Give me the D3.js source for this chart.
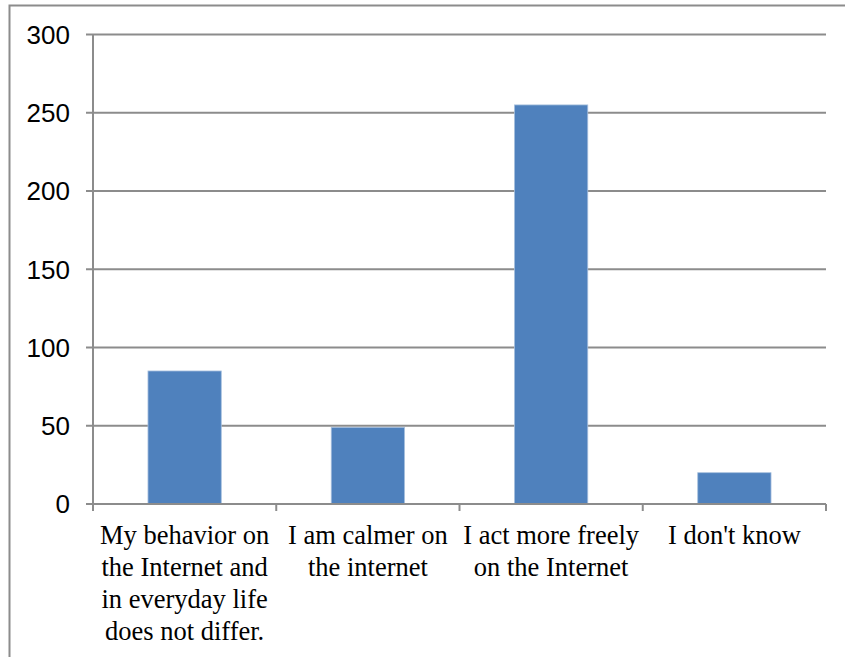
<!DOCTYPE html>
<html>
<head>
<meta charset="utf-8">
<script src="https://cdn.jsdelivr.net/npm/d3@7"></script>
<style>
  html, body { margin: 0; padding: 0; background: #fff; }
  svg { display: block; }
</style>
</head>
<body>
<svg id="chart" width="845" height="657"></svg>
<script>
// Survey answers and their counts
const categories = [
  "My behavior on the Internet and in everyday life does not differ.",
  "I am calmer on the internet",
  "I act more freely on the Internet",
  "I don't know"
];
const categoryLines = [
  ["My behavior on", "the Internet and", "in everyday life", "does not differ."],
  ["I am calmer on", "the internet"],
  ["I act more freely", "on the Internet"],
  ["I don't know"]
];
const values = [85, 49, 255, 20];
const yTicks = [0, 50, 100, 150, 200, 250, 300];

const svg = d3.select("#chart");
const margin = { left: 93, right: 826, top: 34.5, bottom: 504 };

// Outer frame (open on the right and bottom)
svg.append("rect")
  .attr("x", 9.5).attr("y", 5.5)
  .attr("width", 900).attr("height", 700)
  .attr("fill", "none")
  .attr("stroke", "#8c8c8c")
  .attr("stroke-width", 2);

const x = d3.scaleBand()
  .domain(categories)
  .range([margin.left, margin.right])
  .paddingInner(0.6)
  .paddingOuter(0.3);

const y = d3.scaleLinear()
  .domain([0, 300])
  .range([margin.bottom, margin.top]);

// Horizontal gridlines
svg.append("g")
  .selectAll("line")
  .data(yTicks)
  .join("line")
  .attr("x1", margin.left - 7)
  .attr("x2", margin.right)
  .attr("y1", d => y(d))
  .attr("y2", d => y(d))
  .attr("stroke", "#8c8c8c")
  .attr("stroke-width", 2);

// Y axis line
svg.append("line")
  .attr("x1", margin.left).attr("x2", margin.left)
  .attr("y1", margin.top).attr("y2", margin.bottom + 6)
  .attr("stroke", "#8c8c8c")
  .attr("stroke-width", 2);

// Y tick labels
svg.append("g")
  .selectAll("text")
  .data(yTicks)
  .join("text")
  .attr("x", 70)
  .attr("y", d => y(d))
  .attr("dy", "0.36em")
  .attr("text-anchor", "end")
  .attr("font-family", "Liberation Sans, Arial, sans-serif")
  .attr("font-size", 26)
  .attr("fill", "#000")
  .text(d => d);

// Bars
svg.append("g")
  .selectAll("rect")
  .data(values)
  .join("rect")
  .attr("x", (d, i) => x(categories[i]))
  .attr("width", x.bandwidth())
  .attr("y", d => y(d))
  .attr("height", d => y(0) - y(d))
  .attr("fill", "#4f81bd")
  .attr("stroke", "#a7c0de")
  .attr("stroke-width", 0.8);

// Category boundary ticks on the x axis
const boundaries = d3.range(categories.length + 1).map(i => margin.left + i * (margin.right - margin.left) / categories.length);
svg.append("g")
  .selectAll("line")
  .data(boundaries)
  .join("line")
  .attr("x1", d => d).attr("x2", d => d)
  .attr("y1", margin.bottom)
  .attr("y2", margin.bottom + 7)
  .attr("stroke", "#8c8c8c")
  .attr("stroke-width", 2);

// Baseline redrawn over bars
svg.append("line")
  .attr("x1", margin.left - 7).attr("x2", margin.right)
  .attr("y1", y(0)).attr("y2", y(0))
  .attr("stroke", "#8c8c8c")
  .attr("stroke-width", 2);

// Category labels (wrapped)
const labels = svg.append("g")
  .selectAll("text")
  .data(categories)
  .join("text")
  .attr("text-anchor", "middle")
  .attr("font-family", "Liberation Serif, 'Times New Roman', serif")
  .attr("font-size", 26.5)
  .attr("fill", "#000");

labels.each(function(d, i) {
  const t = d3.select(this);
  const cx = x(d) + x.bandwidth() / 2;
  categoryLines[i].forEach((line, j) => {
    t.append("tspan")
      .attr("x", cx)
      .attr("y", 544 + j * 32)
      .text(line);
  });
});
</script>
</body>
</html>
